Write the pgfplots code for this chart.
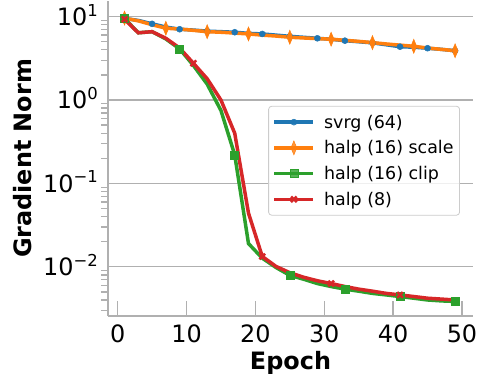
\documentclass[border=0pt]{standalone}
\usepackage{pgfplots}
\usepackage{pgfplotstable}
\pgfplotsset{compat=1.18}
\usepackage{fontspec}
\setmainfont{DejaVu Sans}
\definecolor{c0}{HTML}{1F77B4}
\definecolor{c1}{HTML}{FF7F0E}
\definecolor{c2}{HTML}{2CA02C}
\definecolor{c3}{HTML}{D62728}
\definecolor{sp}{HTML}{B0B0B0}
\definecolor{lg}{HTML}{CCCCCC}
\newcommand\tl[1]{10\raisebox{9.3bp}{\fontsize{16.5}{16.5}\selectfont #1}}

\pgfplotstableread{
ep svrg scale clip h8
1  9.5   9.6   9.5     9.3
3  9.0   8.9   6.4     6.4
5  8.2   8.0   6.6     6.6
7  7.5   7.26  5.4     5.5
9  7.06  7.1   4.1     4.2
11 6.9   6.85  2.6     2.76
13 6.7   6.6   1.55    1.8
15 6.6   6.5   0.75    1.0
17 6.5   6.35  0.22    0.4
19 6.3   6.2   0.019   0.044
21 6.2   6.0   0.0127  0.0133
23 6.0   5.85  0.0098  0.0101
25 5.8   5.66  0.0079  0.0085
27 5.65  5.55  0.0071  0.0075
29 5.5   5.45  0.0063  0.0068
31 5.35  5.36  0.0058  0.0063
33 5.15  5.2   0.0054  0.0058
35 5.0   5.05  0.0051  0.0054
37 4.85  4.88  0.0048  0.0051
39 4.6   4.7   0.0046  0.0048
41 4.36  4.55  0.0044  0.0046
43 4.3   4.41  0.0042  0.0044
45 4.18  4.2   0.0040  0.0042
47 4.05  4.05  0.0039  0.0041
49 3.9   3.9   0.00384 0.0040
}\data

\begin{document}
\begin{tikzpicture}
\path[use as bounding box] (-108bp,-61bp) rectangle (372bp,316bp);
\begin{axis}[
  scale only axis,
  width=365bp, height=315bp,
  xmin=-1.4, xmax=51.6,
  ymode=log, ymin=0.00257, ymax=15.4,
  axis lines*=left,
  axis line style={draw=sp, line width=1.3bp},
  tick style={draw=sp, line width=1.3bp},
  tick align=inside,
  major tick length=15bp,
  minor tick length=7bp,
  every minor tick/.append style={xshift=-7bp},
  xtick={0,10,20,30,40,50},
  ytick={0.01,0.1,1,10},
  yticklabels={\tl{−2},\tl{−1},\tl{0},\tl{1}},
  minor ytick={0.003,0.004,0.005,0.006,0.007,0.008,0.009,0.02,0.03,0.04,0.05,0.06,0.07,0.08,0.09,0.2,0.3,0.4,0.5,0.6,0.7,0.8,0.9,2,3,4,5,6,7,8,9},
  ymajorgrids,
  major grid style={draw=sp, line width=1.3bp},
  /pgf/number format/assume math mode=true,
  xticklabel style={font=\fontsize{24}{28}\selectfont, inner sep=0pt, anchor=north, yshift=-9bp},
  yticklabel style={font=\fontsize{24}{28}\selectfont, inner sep=0pt, anchor=base east, xshift=-10bp, yshift=-8.75bp},
  xlabel={Epoch},
  ylabel={Gradient Norm},
  label style={font=\fontsize{24}{28}\selectfont\bfseries},
  xlabel style={at={(axis description cs:0.5,-0.1714)}, anchor=base},
  ylabel style={at={(axis description cs:-0.209,0.5)}, anchor=base, rotate=0},
  legend style={at={(0.439,0.667)}, anchor=north west, draw=lg, rounded corners=3bp,
     fill=white, fill opacity=0.8, text opacity=1, line width=0.8bp,
     font=\fontsize{17.5}{21}\selectfont, inner xsep=4bp, inner ysep=6.5bp, row sep=7bp,
     /tikz/every odd column/.append style={column sep=7bp}},
  legend cell align=left,
  legend image code/.code={\draw[mark repeat=2,mark phase=2] plot coordinates {(0bp,0bp) (19.5bp,0bp) (39bp,0bp)};},
]
\addplot[c0, line width=3.5bp, mark=*, mark size=3bp, mark repeat=2, mark options={line width=0.5bp}] table[x=ep,y=svrg] {\data};
\addlegendentry{svrg (64)}
\addplot[c1, line width=3.5bp, mark=diamond*, mark size=7bp, mark repeat=3, mark options={line width=0.5bp, xscale=0.55}] table[x=ep,y=scale] {\data};
\addlegendentry{halp (16) scale}
\addplot[c2, line width=3.5bp, mark=square*, mark size=4bp, mark repeat=4, mark options={line width=0.5bp}] table[x=ep,y=clip] {\data};
\addlegendentry{halp (16) clip}
\addplot[c3, line width=3.5bp, mark=x, mark size=4bp, mark repeat=5, mark options={line width=2.5bp}] table[x=ep,y=h8] {\data};
\addlegendentry{halp (8)}
\end{axis}
\end{tikzpicture}
\end{document}
